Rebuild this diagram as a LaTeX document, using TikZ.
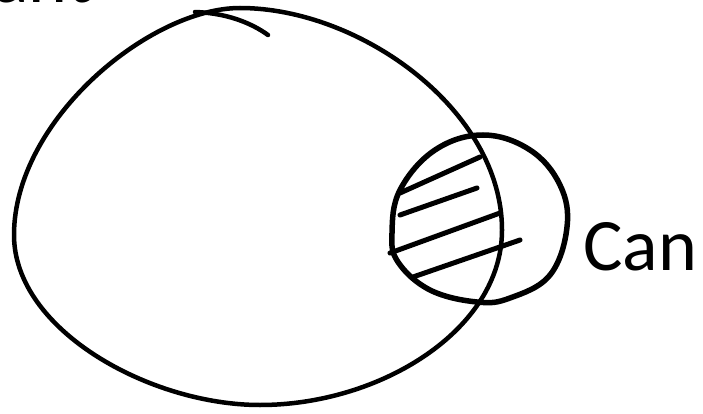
\documentclass[tikz,border=0pt]{standalone}
\usepackage{fontspec}
\setmainfont{Carlito}
\tikzset{
  sketch/.style={line width=4.5pt, line cap=round, line join=round, black},
  hatchline/.style={line width=5pt, line cap=round, black},
  label/.style={inner sep=0pt, font=\fontsize{74}{80}\selectfont}
}
\begin{document}
\begin{tikzpicture}[x=1pt,y=-1pt]
\useasboundingbox (0,0) rectangle (703,414);
\clip (0,0) rectangle (703,414);
% large oval
\draw[sketch] (240,8) .. controls (150,8) and (14,120) .. (14,235)
  .. controls (14,330) and (150,405) .. (260,405)
  .. controls (380,405) and (502,330) .. (502,230)
  .. controls (502,110) and (360,8) .. (240,8) -- cycle;
% pen overshoot at the top
\draw[sketch] (195,12) .. controls (225,13) and (250,22) .. (268,35);
% small circle
\draw[sketch, line width=5.5pt] plot[smooth cycle, tension=0.65] coordinates {
  (483,135) (530,150) (560,185) (567,227) (550,275) (510,298) (477,302)
  (430,290) (398,262) (392,233) (400,190) (435,150)};
% hatching
\draw[hatchline] (400,193) -- (480,157);
\draw[hatchline] (400,215) -- (477,188);
\draw[hatchline] (390,253) -- (500,213);
\draw[hatchline] (413,277) -- (520,240);
% labels
\node[label, anchor=base west] (can) at (583,270) {Can};
\node[label, anchor=base east] (ant) at (92,3) {ant};
\end{tikzpicture}
\end{document}
